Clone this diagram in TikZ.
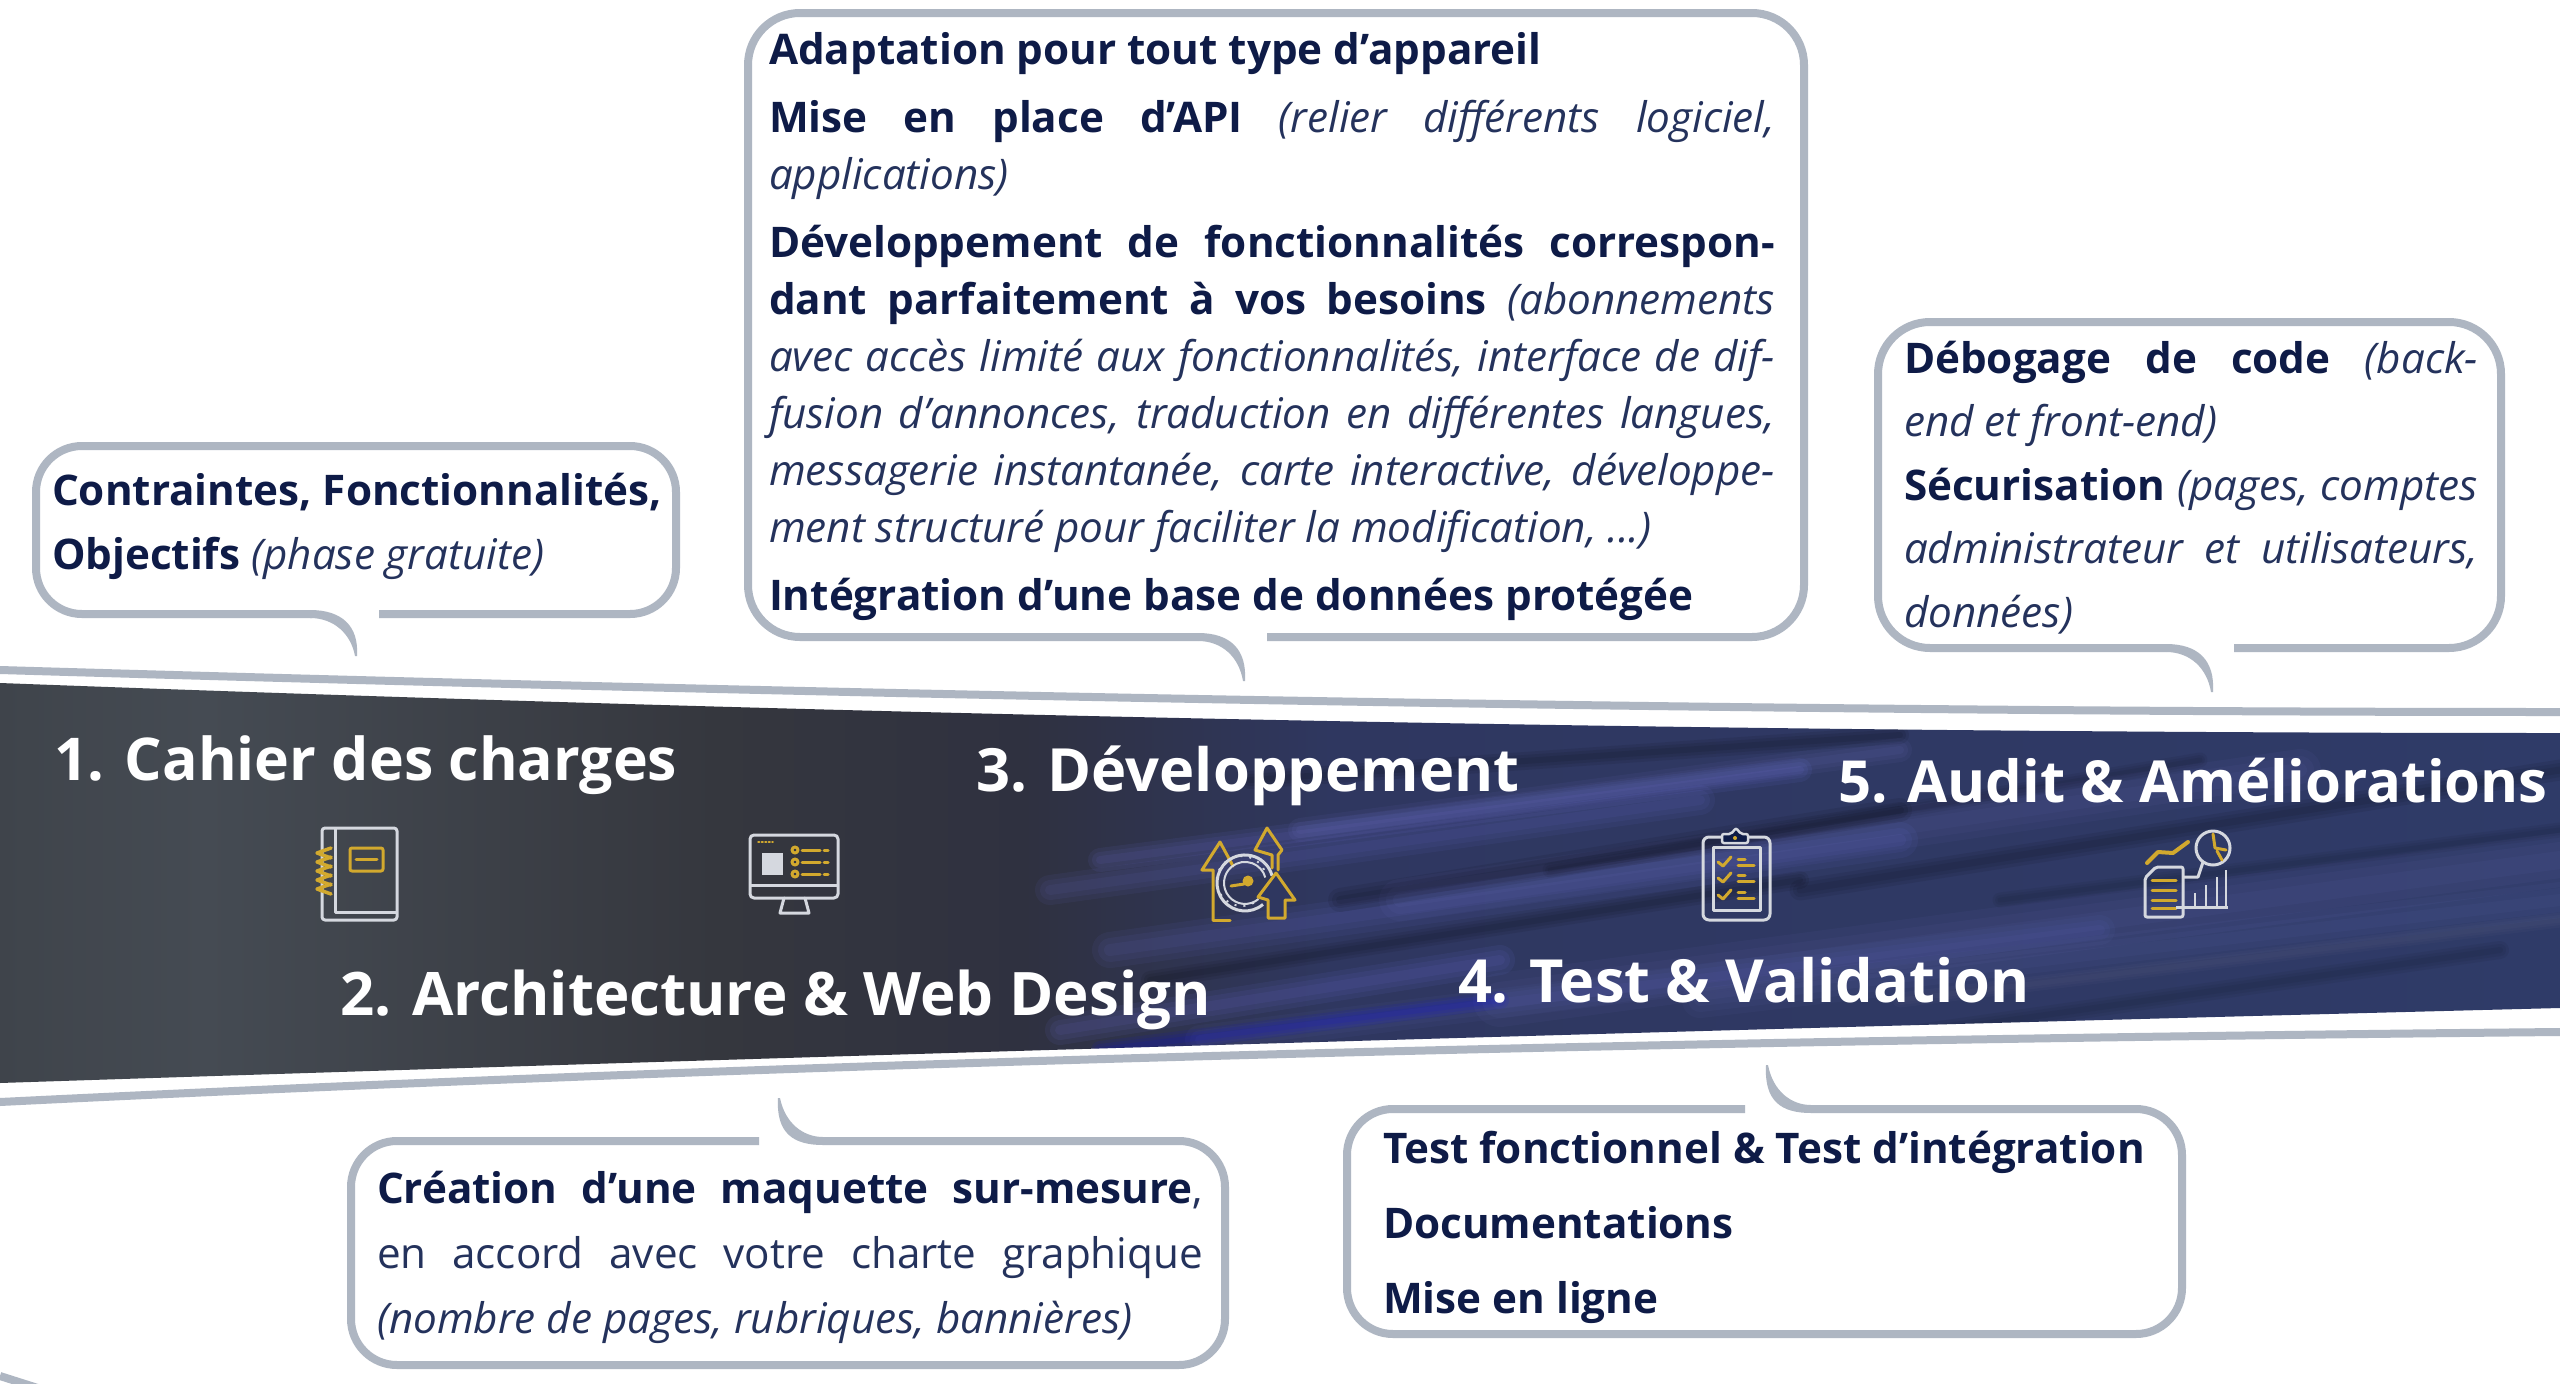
\documentclass[tikz,border=0pt]{standalone}
\usepackage{fontspec}
\setmainfont{Open Sans}
\definecolor{edge}{HTML}{AEB6C2}
\definecolor{navy}{HTML}{0E1B47}
\definecolor{body}{HTML}{24325C}
\definecolor{gold}{HTML}{D2A92E}
\definecolor{icon}{HTML}{D5D8DF}
\definecolor{b0}{HTML}{3F444B}
\definecolor{b1}{HTML}{454B53}
\definecolor{b2}{HTML}{35373E}
\definecolor{b3}{HTML}{2F3140}
\definecolor{b4}{HTML}{2F3760}
\definecolor{b5}{HTML}{2F3B68}
\pgfdeclarehorizontalshading{bandsh}{100bp}{
 color(0bp)=(b0);
 color(25bp)=(b0);
 color(29bp)=(b1);
 color(39bp)=(b2);
 color(45bp)=(b3);
 color(51bp)=(b4);
 color(75bp)=(b5);
 color(100bp)=(b5)}
\newcommand{\jl}[2]{\hbox to #1{#2}}
\newcommand{\bd}[1]{{\bfseries\color{navy}#1}}
\newcommand{\itl}[1]{{\itshape #1}}
\newcommand{\tailD}[3]{\fill[edge] (#1-46,#2-4) .. controls (#1-14,#2-4) and (#1+3,#2+12) .. (#1+1,#3) -- (#1-1,#3) .. controls (#1-5,#2+20) and (#1-22,#2+4) .. (#1-46,#2+4) -- cycle;}
\newcommand{\tailU}[3]{\fill[edge] (#1-1,#3) .. controls (#1-3,#2-8) and (#1+14,#2+4) .. (#1+44,#2+4) -- (#1+44,#2-4) .. controls (#1+24,#2-4) and (#1+6,#2-18) .. (#1+1,#3) -- cycle;}
\tikzset{
 bub/.style={draw=edge,line width=8pt,line join=round},
 rail/.style={draw=edge,line width=8pt},
 para/.style={anchor=base west,inner sep=0pt,outer sep=0pt,text=body,font=\fontsize{42.2}{50}\selectfont},
 head/.style={anchor=base west,inner sep=0pt,outer sep=0pt,text=white,font=\fontsize{59}{66}\bfseries\selectfont},
 ico/.style={draw=icon,line width=3pt,line join=round},
 gld/.style={draw=gold,line width=3pt,line join=round,line cap=round},
}
\begin{document}
\begin{tikzpicture}[x=1pt,y=-1pt]
\useasboundingbox (0,0) rectangle (2560,1384);
\fill[white] (0,0) rectangle (2560,1384);
% band
\begin{scope}
\clip (0,683) .. controls (850,715) and (1700,733) .. (2560,733) -- (2560,1008) .. controls (1700,1030) and (850,1055) .. (0,1083) -- cycle;
\shade[shading=bandsh] (0,670) rectangle (2560,1090);
\foreach \xa/\ya/\xb/\yb/\w/\c/\o in {
 1050/890/1700/800/10/blue!50!white/.06,
 1100/860/1800/770/8/blue!50!white/.07,
 1110/950/1900/840/12/blue!50!white/.06,
 1060/1030/1500/960/10/blue!50!white/.07,
 1200/1040/2100/930/10/blue!50!white/.045,
 1400/900/2300/770/14/blue!40!white/.04,
 1500/1000/2560/860/18/blue!40!white/.04,
 1300/830/1900/750/8/blue!40!white/.05,
 1700/1000/2560/900/12/blue!40!white/.035,
 1150/980/1800/880/6/black/.08,
 1340/900/1900/810/8/black/.08,
 1800/890/2560/770/7/black/.07,
 1800/1050/2500/950/6/black/.05,
 1550/870/2200/760/5/black/.06,
 2000/900/2560/830/5/black/.05,
 1900/1000/2560/920/5/white/.02,
 1250/780/1900/735/6/black/.08,
 1100/1050/1500/1000/6/blue/.08}
 {\draw[line width=3*\w pt,color=\c,opacity=\o,line cap=round] (\xa,\ya) -- (\xb,\yb);
  \draw[line width=2*\w pt,color=\c,opacity=\o,line cap=round] (\xa,\ya) -- (\xb,\yb);
  \draw[line width=\w pt,color=\c,opacity=\o,line cap=round] (\xa,\ya) -- (\xb,\yb);}
\end{scope}
\draw[rail] (0,670) .. controls (850,695) and (1700,712) .. (2560,712);
\draw[rail] (0,1102) .. controls (850,1060) and (1700,1040) .. (2560,1032);
\draw[rail] (0,1376) -- (44,1390);
% bubble 1
\draw[bub] (379,614) -- (630,614) arc[start angle=90,end angle=0,radius=46] -- (676,492) arc[start angle=0,end angle=-90,radius=46] -- (82,446) arc[start angle=-90,end angle=-180,radius=46] -- (36,568) arc[start angle=180,end angle=90,radius=46] -- (312,614);
\tailD{356}{614}{656}
% bubble dev
\draw[bub] (1267,637) -- (1752,637) arc[start angle=90,end angle=0,radius=52] -- (1804,65) arc[start angle=0,end angle=-90,radius=52] -- (800,13) arc[start angle=-90,end angle=-180,radius=52] -- (748,585) arc[start angle=180,end angle=90,radius=52] -- (1198,637);
\tailD{1244}{637}{681}
% bubble audit
\draw[bub] (2234,648) -- (2449,648) arc[start angle=90,end angle=0,radius=52] -- (2501,374) arc[start angle=0,end angle=-90,radius=52] -- (1930,322) arc[start angle=-90,end angle=-180,radius=52] -- (1878,596) arc[start angle=180,end angle=90,radius=52] -- (2166,648);
\tailD{2212}{648}{692}
% bubble architecture
\draw[bub] (759,1141) -- (397,1141) arc[start angle=-90,end angle=-180,radius=46] -- (351,1319) arc[start angle=180,end angle=90,radius=46] -- (1179,1365) arc[start angle=90,end angle=0,radius=46] -- (1225,1187) arc[start angle=0,end angle=-90,radius=46] -- (823,1141);
\tailU{779}{1141}{1098}
% bubble test
\draw[bub] (1745,1109) -- (1393,1109) arc[start angle=-90,end angle=-180,radius=46] -- (1347,1288) arc[start angle=180,end angle=90,radius=46] -- (2136,1334) arc[start angle=90,end angle=0,radius=46] -- (2182,1155) arc[start angle=0,end angle=-90,radius=46] -- (1811,1109);
\tailU{1767}{1109}{1065}
% texts
\node[para] (t1) at (52,505) {\vtop{\hsize=640pt\baselineskip=64pt\lineskiplimit=-200pt
 \hbox{\bd{Contraintes, Fonctionnalités,}}
 \hbox{\bd{Objectifs} \itl{(phase gratuite)}}}};
\node[para] (t3) at (769,64) {\vtop{\hsize=1010pt\baselineskip=57pt\lineskiplimit=-200pt
 \hbox{\bd{Adaptation pour tout type d’appareil}}
 \vskip11pt
 \jl{1006pt}{\bd{Mise en place d’API} \itl{(relier différents logiciel,}}
 \hbox{\itl{applications)}}
 \vskip11pt
 \jl{1006pt}{\bd{Développement de fonctionnalités correspon-}}
 \jl{1006pt}{\bd{dant parfaitement à vos besoins} \itl{(abonnements}}
 \jl{1006pt}{\itl{avec accès limité aux fonctionnalités, interface de dif-}}
 \jl{1006pt}{\itl{fusion d’annonces, traduction en différentes langues,}}
 \jl{1006pt}{\itl{messagerie instantanée, carte interactive, développe-}}
 \hbox{\itl{ment structuré pour faciliter la modification, ...)}}
 \vskip11pt
 \hbox{\bd{Intégration d’une base de données protégée}}}};
\node[para] (t5) at (1904,373) {\vtop{\hsize=580pt\baselineskip=63.5pt\lineskiplimit=-200pt
 \jl{574pt}{\bd{Débogage de code} \itl{(back-}}
 \hbox{\itl{end et front-end)}}
 \jl{574pt}{\bd{Sécurisation} \itl{(pages, comptes}}
 \jl{574pt}{\itl{administrateur et utilisateurs,}}
 \hbox{\itl{données)}}}};
\node[para] (t2) at (377,1203) {\vtop{\hsize=830pt\baselineskip=65pt\lineskiplimit=-200pt
 \jl{826pt}{\bd{Création d’une maquette sur-mesure},}
 \jl{826pt}{en accord avec votre charte graphique}
 \hbox{\itl{(nombre de pages, rubriques, bannières)}}}};
\node[para] (t4) at (1383,1163) {\vtop{\hsize=780pt\baselineskip=75pt\lineskiplimit=-200pt
 \hbox{\bd{Test fonctionnel \& Test d’intégration}}
 \hbox{\bd{Documentations}}
 \hbox{\bd{Mise en ligne}}}};
\node[head] (h1) at (54,780) {1. Cahier des charges};
\node[head,font=\fontsize{60}{66}\bfseries\selectfont] (h2) at (340,1015) {2. Architecture \& Web Design};
\node[head,font=\fontsize{59.6}{66}\bfseries\selectfont] (h3) at (976,791) {3. Développement};
\node[head,font=\fontsize{59.5}{66}\bfseries\selectfont] (h4) at (1458,1002) {4. Test \& Validation};
\node[head,font=\fontsize{58}{66}\bfseries\selectfont] (h5) at (1838,802) {5. Audit \& Améliorations};
% icon notebook
\draw[ico,rounded corners=3pt] (322,828) rectangle (397,920);
\draw[ico] (335,828) -- (335,912) -- (397,912);
\foreach \y in {848,857,866,875,884} {\draw[gld,line width=3.5pt] (331,\y) -- (317,\y+5) -- (331,\y+10);}
\draw[gld,rounded corners=2pt] (350,848) rectangle (383,871);
\draw[gld] (356,859) -- (377,859);
% icon monitor
\draw[ico,rounded corners=4pt] (750,835) rectangle (838,898);
\draw[ico] (750,885) -- (838,885);
\draw[ico,line cap=round] (784,898) -- (780,913) -- (809,913) -- (805,898);
\fill[icon] (762,853) rectangle (783,875);
\foreach \y in {850,862,874} {\draw[gld] (795,\y) circle[radius=3];\draw[gld] (802,\y) -- (820,\y);\draw[gld] (824,\y) -- (828,\y);}
\draw[gld,line width=1.5pt,dotted] (758,842) -- (773,842);
% icon development
\draw[gld] (1213,920) -- (1213,870) -- (1202,870) -- (1220,842) -- (1233,866);
\draw[gld] (1213,920) -- (1230,920);
\draw[gld] (1272,868) -- (1272,855) -- (1255,850) -- (1267,828) -- (1282,850) -- (1278,855) -- (1278,870);
\draw[draw=icon,line width=3pt] (1263,904.4) arc[start angle=50,end angle=345,radius=28];
\draw[draw=icon,line width=2pt] (1258.5,899) arc[start angle=50,end angle=345,radius=21];
\draw[draw=icon,line width=2pt,dash pattern=on 2pt off 7pt] (1260.8,897) arc[start angle=40,end angle=345,radius=25];
\filldraw[draw=gold,fill=b4,line width=3pt,line join=round] (1268,918) -- (1268,900) -- (1258,897) -- (1276,873) -- (1295,900) -- (1285,900) -- (1285,918) -- cycle;
\draw[gld] (1231,886) -- (1244,884);
\fill[gold] (1248,881) circle[radius=5.5];
% icon clipboard
\draw[ico,rounded corners=6pt] (1703,837) rectangle (1770,920);
\draw[ico] (1713,847) rectangle (1760,910);
\filldraw[draw=icon,fill=navy,line width=2.5pt,rounded corners=2pt] (1722,834) -- (1731,834) -- (1736,828) -- (1741,834) -- (1748,834) -- (1748,843) -- (1722,843) -- cycle;
\fill[gold] (1735,838) circle[radius=2];
\foreach \y in {862,878,895} {\draw[gld] (1718,\y) -- (1723,\y+4) -- (1731,\y-5);\draw[gld] (1738,\y-3) -- (1745,\y-3);\draw[gld] (1738,\y+3) -- (1754,\y+3);}
% icon chart
\draw[gld,line width=4pt] (2147,863) -- (2158,852) -- (2173,853) -- (2188,842);
\draw[draw=icon,line width=3pt] (2213,848) circle[radius=17];
\draw[gld] (2213,834) -- (2215,848) -- (2226,850);
\draw[gld] (2217,851) -- (2222,860);
\draw[ico,rounded corners=2pt] (2156,867) -- (2183,867) -- (2183,917) -- (2145,917) -- (2145,878) -- cycle;
\foreach \y in {880,890,900,908} {\draw[gld] (2152,\y) -- (2176,\y);}
\draw[ico] (2183,877) -- (2198,877) -- (2203,862);
\draw[ico] (2176,907) -- (2228,907);
\foreach \x/\y in {2195/893,2206/885,2217/877,2226/870} {\draw[draw=icon,line width=2.5pt] (\x,907) -- (\x,\y);}
\end{tikzpicture}
\end{document}
